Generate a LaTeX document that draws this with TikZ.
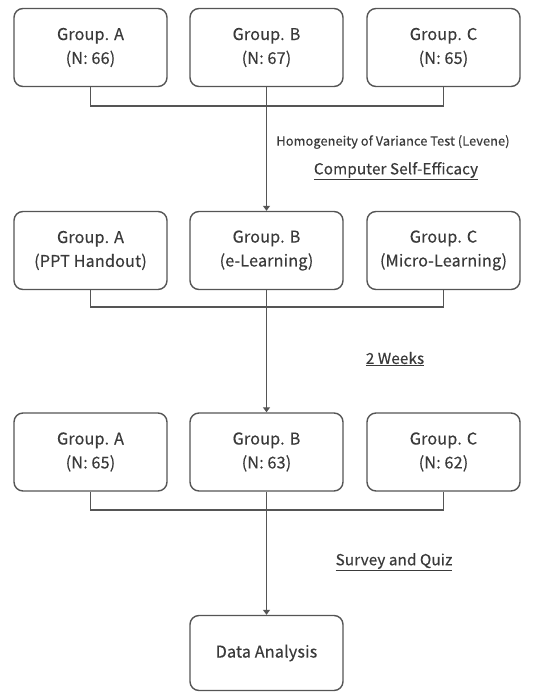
\documentclass[tikz,border=0pt]{standalone}
\usepackage{fontspec}
\setmainfont{Noto Sans CJK KR}[FakeBold=0.3, LetterSpace=0.8]
\usetikzlibrary{arrows.meta}
\definecolor{ln}{HTML}{555555}
\definecolor{tx}{HTML}{3a3a3a}
\tikzset{
  grp/.style={draw=ln, line width=1.4bp, rounded corners=9bp, minimum width=153bp, minimum height=78bp, align=center, text=tx, font=\fontsize{16.3}{24}\selectfont, inner sep=0pt},
  conn/.style={draw=ln, line width=1.3bp},
  arr/.style={conn, -{Triangle[width=7bp,length=5bp]}},
  lab/.style={text=tx, inner sep=0pt},
}
\newcommand{\ul}[1]{\underline{#1}}
\begin{document}
\begin{tikzpicture}[x=1bp,y=-1bp]
\useasboundingbox (0,0) rectangle (536,692);
% row 1
\node[grp] (a1) at (90.5,47.5) {Group. A\\(N: 66)};
\node[grp] (b1) at (266.5,47.5) {Group. B\\(N: 67)};
\node[grp] (c1) at (443.5,47.5) {Group. C\\(N: 65)};
% row 2
\node[grp] (a2) at (90.5,250.5) {Group. A\\(PPT Handout)};
\node[grp] (b2) at (266.5,250.5) {Group. B\\(e-Learning)};
\node[grp] (c2) at (443.5,250.5) {Group. C\\(Micro-Learning)};
% row 3
\node[grp] (a3) at (90.5,452) {Group. A\\(N: 65)};
\node[grp] (b3) at (266.5,452) {Group. B\\(N: 63)};
\node[grp] (c3) at (443.5,452) {Group. C\\(N: 62)};
% final
\node[grp, minimum height=75bp] (d) at (266.5,653) {Data Analysis};
% junctions
\coordinate (j1) at (266.5,106);
\coordinate (j2) at (266.5,307);
\coordinate (j3) at (266.5,510);
\draw[conn] (a1.south) -- (a1.south |- j1) -- (c1.south |- j1) -- (c1.south);
\draw[arr] (b1.south) -- (b2.north);
\draw[conn] (a2.south) -- (a2.south |- j2) -- (c2.south |- j2) -- (c2.south);
\draw[arr] (b2.south) -- (b3.north);
\draw[conn] (a3.south) -- (a3.south |- j3) -- (c3.south |- j3) -- (c3.south);
\draw[arr] (b3.south) -- (d.north);
% labels
\node[lab, font=\fontsize{12.8}{14}\selectfont] (t1) at (393,142) {Homogeneity of Variance Test (Levene)};
\node[lab, font=\fontsize{15.3}{17}\selectfont] (t2) at (396,171) {\ul{Computer Self-Efficacy}};
\node[lab, font=\fontsize{15.3}{17}\selectfont] (t3) at (395,359) {\ul{2 Weeks}};
\node[lab, font=\fontsize{15.3}{17}\selectfont] (t4) at (394,562) {\ul{Survey and Quiz}};
\end{tikzpicture}
\end{document}
